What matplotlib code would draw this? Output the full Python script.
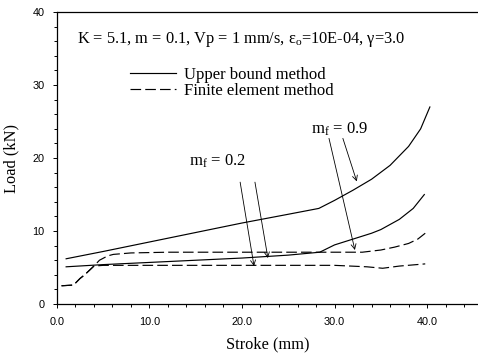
import matplotlib
matplotlib.use("Agg")

import matplotlib.pyplot as plt
from matplotlib.ticker import MultipleLocator, FormatStrFormatter

plt.rcParams["font.family"] = "Liberation Serif"
plt.rcParams["mathtext.fontset"] = "custom"
plt.rcParams["mathtext.rm"] = "Liberation Serif"
plt.rcParams["mathtext.it"] = "Liberation Serif:italic"

# Upper bound method, m_f = 0.9 and m_f = 0.2
ub_09_stroke = [1.0, 5.0, 10.0, 15.0, 20.0, 25.0, 28.3, 30.0, 32.0, 34.0, 36.0, 38.0, 39.3, 40.3]
ub_09_load = [6.2, 7.2, 8.5, 9.8, 11.1, 12.3, 13.1, 14.2, 15.6, 17.1, 19.0, 21.6, 24.0, 27.0]
ub_02_stroke = [1.0, 5.0, 10.0, 15.0, 20.0, 25.0, 28.4, 30.0, 32.0, 34.0, 35.0, 37.0, 38.5, 39.7]
ub_02_load = [5.1, 5.4, 5.7, 6.0, 6.3, 6.7, 7.1, 8.1, 8.9, 9.7, 10.2, 11.6, 13.1, 15.0]

# Finite element method, m_f = 0.9 and m_f = 0.2
fe_09_stroke = [0.5, 1.8, 2.5, 3.0, 3.5, 4.0, 4.6, 5.5, 6.1, 8.0, 12.0, 20.0, 28.0, 33.0, 35.0, 36.5, 38.0, 39.0, 39.8]
fe_09_load = [2.5, 2.6, 3.5, 4.0, 4.6, 5.2, 6.0, 6.6, 6.8, 7.0, 7.1, 7.1, 7.1, 7.1, 7.4, 7.8, 8.3, 8.9, 9.7]
fe_02_stroke = [0.5, 1.8, 2.5, 3.0, 3.5, 4.0, 5.0, 8.0, 15.0, 22.0, 30.0, 33.5, 35.2, 37.0, 39.8]
fe_02_load = [2.5, 2.6, 3.5, 4.0, 4.6, 5.2, 5.3, 5.3, 5.3, 5.3, 5.3, 5.1, 4.9, 5.2, 5.5]

fig = plt.figure(figsize=(4.78, 3.56), dpi=100)
ax = fig.add_axes([0.119, 0.146, 0.881, 0.820])

dash = (0, (9, 3.5))
ub1, = ax.plot(ub_09_stroke, ub_09_load, color="black", lw=0.85, label="Upper bound method")
ax.plot(ub_02_stroke, ub_02_load, color="black", lw=0.85)
fe1, = ax.plot(fe_09_stroke, fe_09_load, color="black", lw=0.85, linestyle=dash,
               label="Finite element method")
ax.plot(fe_02_stroke, fe_02_load, color="black", lw=0.85, linestyle=dash)

arrow = dict(arrowstyle="->", lw=0.6, color="black", shrinkA=0, shrinkB=0,
             mutation_scale=9)
# m_f = 0.9 pointers
ax.text(30.5, 23.9, r"m$_{\rm f}$ = 0.9", fontsize=12, ha="center", va="center")
ax.annotate("", xy=(32.2, 7.4), xytext=(29.4, 22.7), arrowprops=arrow)
ax.annotate("", xy=(32.4, 16.8), xytext=(30.9, 22.7), arrowprops=arrow)
# m_f = 0.2 pointers
ax.text(17.3, 19.6, r"m$_{\rm f}$ = 0.2", fontsize=12, ha="center", va="center")
ax.annotate("", xy=(21.3, 5.2), xytext=(19.8, 16.7), arrowprops=arrow)
ax.annotate("", xy=(22.8, 6.3), xytext=(21.4, 16.7), arrowprops=arrow)

ax.text(2.2, 36.2, r"K = 5.1, m = 0.1, Vp = 1 mm/s, ε$_{\rm o}$=10E-04, γ=3.0",
        fontsize=11.8, ha="left", va="center")

ax.legend(handles=[ub1, fe1], loc="upper left", bbox_to_anchor=(0.173, 0.812),
          frameon=False, fontsize=12, handlelength=2.8, handletextpad=0.45,
          labelspacing=0.0, borderpad=0, borderaxespad=0)

ax.set_xlim(0, 45.5)
ax.set_ylim(0, 40)
ax.xaxis.set_major_locator(MultipleLocator(10))
ax.xaxis.set_minor_locator(MultipleLocator(2))
ax.yaxis.set_major_locator(MultipleLocator(10))
ax.yaxis.set_minor_locator(MultipleLocator(2))
ax.xaxis.set_major_formatter(FormatStrFormatter("%.1f"))
ax.tick_params(which="both", direction="out", width=0.7, labelsize=7.8, pad=6)
ax.tick_params(which="major", length=3)
ax.tick_params(which="minor", length=2)
for lab in ax.get_xticklabels() + ax.get_yticklabels():
    lab.set_family("Liberation Sans")
ax.spines["right"].set_visible(False)
for s in ("left", "bottom", "top"):
    ax.spines[s].set_linewidth(0.9)

ax.set_xlabel("Stroke (mm)", fontsize=11.8, labelpad=7)
ax.set_ylabel("Load (kN)", fontsize=11.8, labelpad=9)

fig.savefig("out.png", dpi=100)
